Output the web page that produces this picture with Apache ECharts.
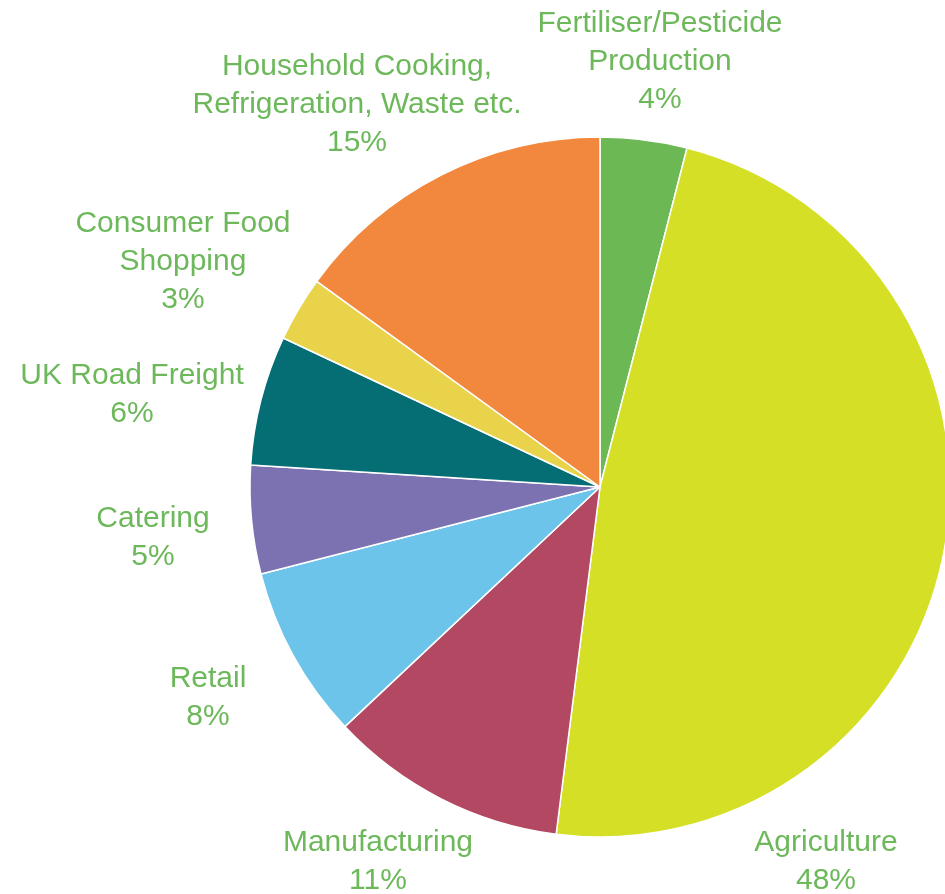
<!DOCTYPE html>
<html>
<head>
<meta charset="utf-8">
<title>Food chain emissions</title>
<script src="https://cdn.jsdelivr.net/npm/echarts@6/dist/echarts.min.js"></script>
<style>
  html, body { margin: 0; padding: 0; background: #fff; }
  #chart { width: 945px; height: 894px; }
</style>
</head>
<body>
<div id="chart"></div>
<script>
// 各环节名称与占比（顺时针，从正上方开始）
const categories = [
  'Fertiliser/Pesticide\nProduction',
  'Agriculture',
  'Manufacturing',
  'Retail',
  'Catering',
  'UK Road Freight',
  'Consumer Food\nShopping',
  'Household Cooking,\nRefrigeration, Waste etc.'
];
const shares = [4, 48, 11, 8, 5, 6, 3, 15];
const colors = ['#6cb855', '#d5df26', '#b24862', '#6cc4ea', '#7c72b1', '#056d74', '#e8d34b', '#f2883d'];

// 标签摆放位置（像素）
const labelPos = [
  [660, 62], [826, 862], [378, 862], [208, 698],
  [153, 538], [132, 395], [183, 262], [357, 105]
];

const chart = echarts.init(document.getElementById('chart'));

chart.setOption({
  animation: false,
  series: [{
    type: 'pie',
    center: [600, 487],
    radius: 350,
    startAngle: 90,
    clockwise: true,
    avoidLabelOverlap: false,
    data: categories.map((name, i) => ({
      name: name,
      value: shares[i],
      itemStyle: { color: colors[i] }
    })),
    itemStyle: { borderColor: '#fff', borderWidth: 1.5 },
    label: {
      show: true,
      position: 'outside',
      formatter: '{b}\n{c}%',
      color: '#6cb85a',
      fontFamily: 'Liberation Sans, Arial, sans-serif',
      fontSize: 30,
      lineHeight: 38,
      align: 'center'
    },
    labelLine: { show: false },
    labelLayout: function (params) {
      const p = labelPos[params.dataIndex];
      return { x: p[0], y: p[1], align: 'center', verticalAlign: 'middle' };
    },
    emphasis: { disabled: true }
  }]
});

window.addEventListener('resize', function () {
  chart.resize();
});
</script>
</body>
</html>
